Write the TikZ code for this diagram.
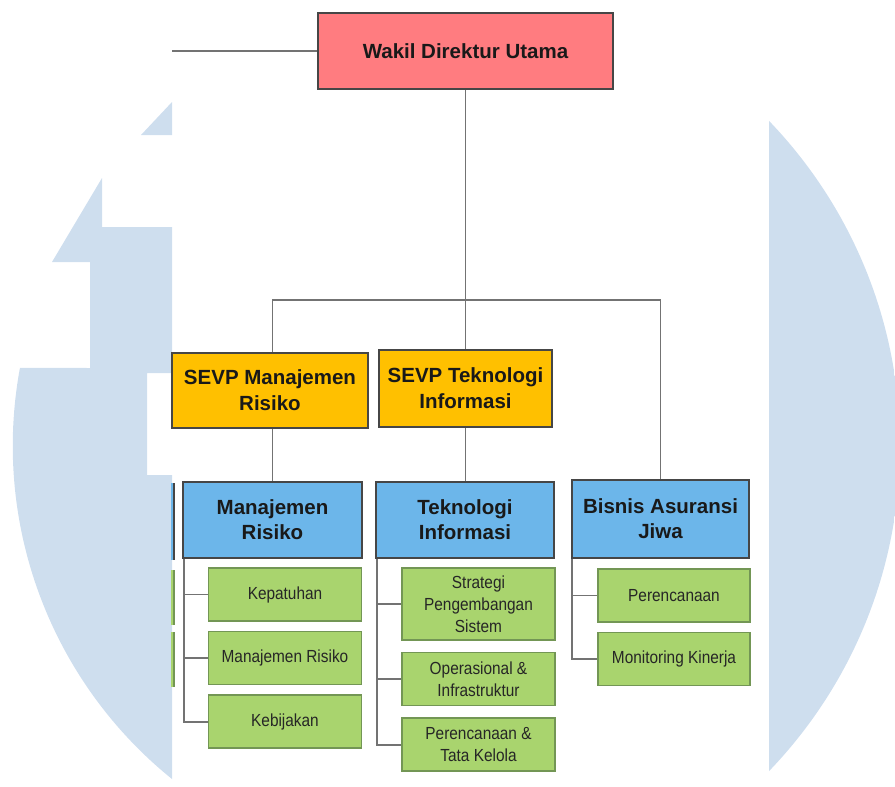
\documentclass[tikz,border=0pt]{standalone}
\usepackage{fontspec}
\setmainfont{Liberation Sans}
\newfontfamily\narrowsans{Liberation Sans}[FakeStretch=0.88]
\usepackage{tikz}
\usetikzlibrary{positioning}
\usepackage{xcolor}
\definecolor{wmblue}{RGB}{206,222,238}
\definecolor{headred}{RGB}{255,124,128}
\definecolor{sevpgold}{RGB}{255,192,0}
\definecolor{unitblue}{RGB}{108,182,234}
\definecolor{subgreen}{RGB}{169,212,110}
\definecolor{subedge}{RGB}{115,150,85}
\definecolor{edgegray}{RGB}{70,70,70}
\definecolor{linkgray}{RGB}{115,115,115}

\begin{document}
\begin{tikzpicture}[
    x=1pt, y=-1pt,
    box/.style={rectangle, draw=edgegray, line width=1.6pt, align=center, inner sep=0pt, text=black!90, font=\fontsize{20.5}{25}\selectfont\bfseries},
    sub/.style={rectangle, draw=subedge, fill=subgreen, line width=1.6pt, align=center, inner sep=0pt, minimum width=153pt, minimum height=53pt, text=black!85, font=\narrowsans\fontsize{17.5}{22}\selectfont},
    link/.style={draw=linkgray, line width=1.6pt}
]
\useasboundingbox (0,0) rectangle (895,787);
\clip (0,0) rectangle (895,787);

% watermark behind the chart
\fill[wmblue] (141,135) -- (172,102) -- (172,135) -- cycle;
\fill[wmblue] (172,475) -- (172,779) arc[start angle=231.1, end angle=169.5, radius=428pt] -- (90,368) -- (90,262) -- (52,262) -- (102,178) -- (102,227) -- (172,227) -- (172,373) -- (147,373) -- (147,475) -- cycle;
\begin{scope}
\clip (431,446) circle[radius=469pt];
\fill[wmblue] (769,0) rectangle (900,787);
\end{scope}

% edges of the cut-off boxes on the left
\fill[unitblue] (171,483) rectangle (174,560);
\draw[edgegray, line width=1.6pt] (174,483) -- (174,560);
\fill[subgreen] (171,570) rectangle (174,625);
\draw[subedge, line width=1.6pt] (174,570) -- (174,625);
\fill[subgreen] (171,632) rectangle (174,687);
\draw[subedge, line width=1.6pt] (174,632) -- (174,687);

% top level
\node[box, fill=headred, minimum width=295pt, minimum height=76pt] (wakil) at (465.5,51) {Wakil Direktur Utama};
\node[box, fill=sevpgold, minimum width=196pt, minimum height=75pt, font=\fontsize{20.5}{26}\selectfont\bfseries] (sevpmr) at (270,390.5) {SEVP Manajemen\\Risiko};
\node[box, fill=sevpgold, minimum width=173pt, minimum height=77pt, font=\fontsize{20.5}{26}\selectfont\bfseries] (sevpti) at (465.5,388.5) {SEVP Teknologi\\Informasi};

% units
\node[box, fill=unitblue, minimum width=179pt, minimum height=76pt] (mrisk) at (272.5,520) {Manajemen\\Risiko};
\node[box, fill=unitblue, minimum width=178pt, minimum height=76pt] (tinfo) at (465,520) {Teknologi\\Informasi};
\node[box, fill=unitblue, minimum width=177pt, minimum height=78pt] (bisnis) at (660.5,519) {Bisnis Asuransi\\Jiwa};

% sub units
\node[sub] (kepatuhan) at (285,594.5) {Kepatuhan};
\node[sub, below=9pt of kepatuhan] (manrisiko) {Manajemen Risiko};
\node[sub, below=9pt of manrisiko] (kebijakan) {Kebijakan};

\node[sub, minimum height=72pt] (strategi) at (478.5,604) {Strategi\\Pengembangan\\Sistem};
\node[sub, below=11pt of strategi] (operasional) {Operasional \&\\Infrastruktur};
\node[sub, below=11pt of operasional] (tatakelola) {Perencanaan \&\\Tata Kelola};

\node[sub, minimum width=152pt] (perencanaan) at (674,595.5) {Perencanaan};
\node[sub, minimum width=152pt, below=9pt of perencanaan] (monitoring) {Monitoring Kinerja};

% connectors
\coordinate (leftin) at (172,51);
\coordinate (bar) at (465.5,300);
\draw[link] (wakil.west) -- (leftin);
\draw[link] (wakil.south) -- (sevpti.north);
\draw[link] (mrisk.north |- sevpmr.north) |- (bar) -| (bisnis.north);
\draw[link] (mrisk.north |- sevpmr.south) -- (mrisk.north);
\draw[link] (sevpti.south) -- (sevpti.south |- tinfo.north);

\draw[link] (mrisk.south west) ++(2,0) |- (kebijakan.west);
\draw[link] (mrisk.south west) ++(2,0) |- (kepatuhan.west);
\draw[link] (mrisk.south west) ++(2,0) |- (manrisiko.west);

\draw[link] (tinfo.south west) ++(2,0) |- (tatakelola.west);
\draw[link] (tinfo.south west) ++(2,0) |- (strategi.west);
\draw[link] (tinfo.south west) ++(2,0) |- (operasional.west);

\draw[link] (bisnis.south west) ++(1,0) |- (monitoring.west);
\draw[link] (bisnis.south west) ++(1,0) |- (perencanaan.west);

\end{tikzpicture}
\end{document}
